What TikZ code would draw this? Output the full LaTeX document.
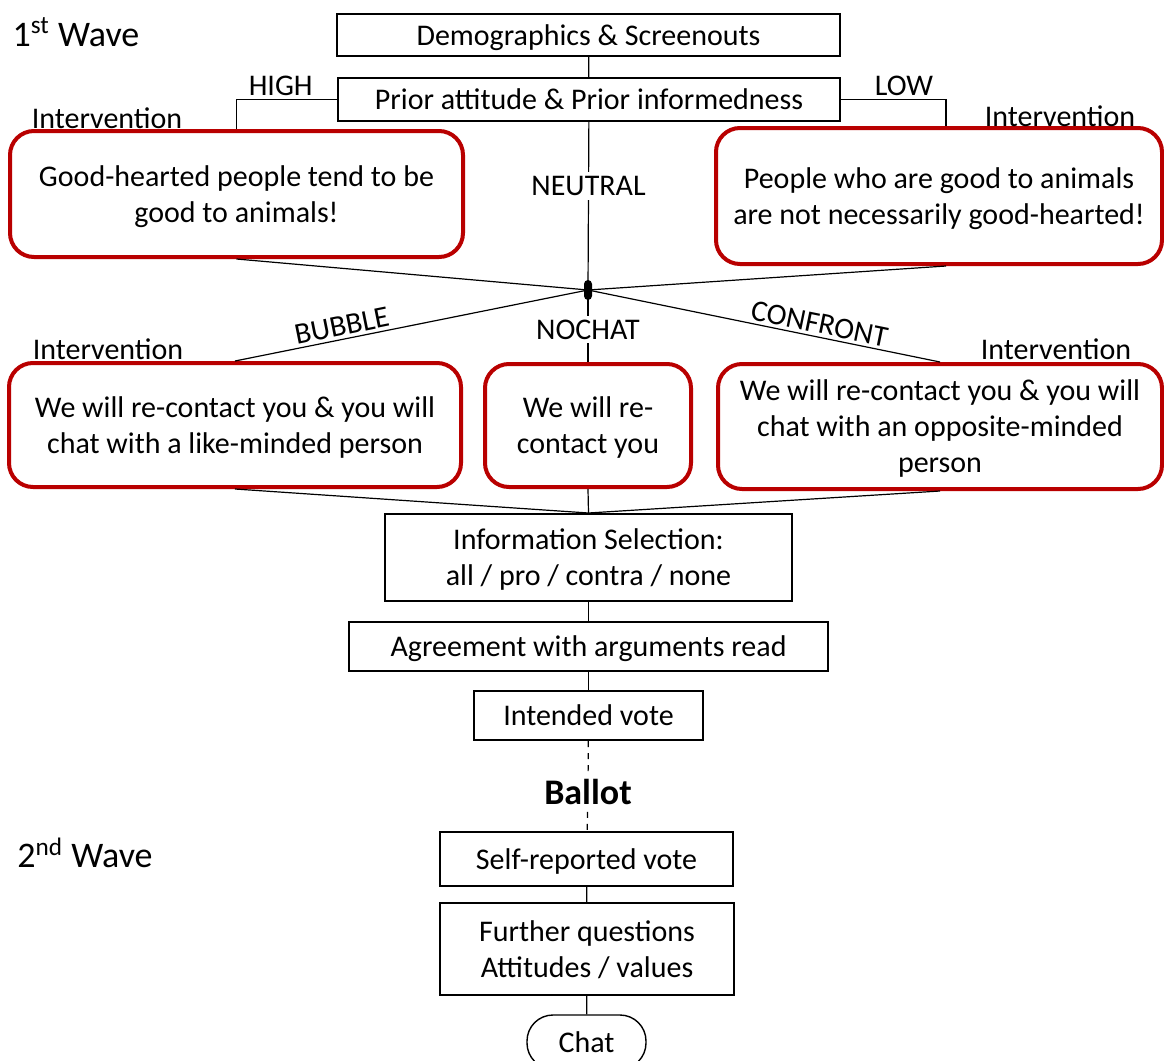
\documentclass[tikz,border=0pt]{standalone}
\usepackage{fontspec}
\setmainfont{Carlito}
\usetikzlibrary{positioning,calc}
\definecolor{boxred}{RGB}{185,0,0}
\tikzset{
  plainbox/.style={draw, line width=1pt, align=center, inner sep=0pt, text depth=0pt},
  redbox/.style={draw=boxred, line width=2pt, rounded corners=12pt, align=center, inner sep=0pt, text depth=0pt},
  lbl/.style={inner sep=1.5pt},
  link/.style={line width=0.6pt},
}

\begin{document}
\begin{tikzpicture}[x=0.5pt,y=-0.5pt,font=\fontsize{15}{18}\selectfont]
\useasboundingbox (0,0) rectangle (1164,1061);

% waves
\node[font=\fontsize{18}{22}\selectfont] (wave1) at (76,32) {1\textsuperscript{st} Wave};
\node[font=\fontsize{18}{22}\selectfont] (wave2) at (85,853) {2\textsuperscript{nd} Wave};

% first wave
\node[plainbox, minimum width=251.5pt, minimum height=21pt] (demo) at (588.5,35) {Demographics \& Screenouts};
\node[plainbox, minimum width=251pt, minimum height=21.5pt] (prior) at (589,99.5) {Prior attitude \& Prior informedness};
\node[redbox, minimum width=226.5pt, minimum height=63pt] (good) at (236.5,194) {Good-hearted people tend to be\\good to animals!};
\node[redbox, minimum width=223pt, minimum height=68pt] (animals) at (939,196) {People who are good to animals\\are not necessarily good-hearted!};
\node[fill=black, rounded corners=2pt, minimum width=4pt, minimum height=10pt, inner sep=0pt] (hub) at (588,290) {};
\node[redbox, minimum width=226pt, minimum height=62pt] (bubble) at (235,425) {We will re-contact you \& you will\\chat with a like-minded person};
\node[redbox, minimum width=103pt, minimum height=61.5pt] (nochat) at (588,425.5) {We will re-\\contact you};
\node[redbox, minimum width=222pt, minimum height=62.5pt] (confront) at (940,426.5) {We will re-contact you \& you will\\chat with an opposite-minded\\person};
\node[plainbox, minimum width=203.5pt, minimum height=43.5pt] (info) at (588.5,557.5) {Information Selection:\\all / pro / contra / none};
\node[plainbox, minimum width=239.5pt, minimum height=24.5pt] (agree) at (588.5,646.5) {Agreement with arguments read};
\node[plainbox, minimum width=114.5pt, minimum height=24.5pt] (intended) at (588.5,715.5) {Intended vote};
\node[font=\bfseries\fontsize{18}{22}\selectfont] (ballot) at (588,792) {Ballot};

% second wave
\node[plainbox, minimum width=146.5pt, minimum height=27pt] (self) at (586.5,859) {Self-reported vote};
\node[plainbox, minimum width=147pt, minimum height=46pt] (further) at (587,949) {Further questions\\Attitudes / values};
\node[draw, line width=0.7pt, rounded corners=13pt, minimum width=59.5pt, minimum height=27pt] (chat) at (586.5,1042) {Chat};

% intervention labels
\node (int1) at (107,118) {Intervention};
\node (int2) at (1060,116) {Intervention};
\node (int3) at (108,349) {Intervention};
\node (int4) at (1056,349) {Intervention};

% connectors
\draw[link] (demo) -- (prior);
\draw[link] (prior.west) -| node[lbl, pos=0.28, above] {HIGH} (good.north);
\draw[link] (prior.east) -| node[lbl, pos=0.3, above] {LOW} ([xshift=3.5pt]animals.north);
\draw[link] (prior) -- node[fill=white, inner sep=2pt, pos=0.38] {NEUTRAL} (hub.center);
\draw[link] (good.south) -- (hub.center);
\draw[link] ([xshift=3.5pt]animals.south) -- (hub.center);
\draw[link] (bubble.north) -- node[lbl, sloped, above, pos=0.31] {BUBBLE} (hub.center);
\draw[link] (hub.center) -- node[lbl, sloped, above, pos=0.65] {CONFRONT} (confront.north);
\draw[link] (hub.center) -- node[fill=white, inner sep=2pt, pos=0.55] {NOCHAT} (nochat.north);
\draw[link] (bubble.south) -- (info.north);
\draw[link] (nochat.south) -- (info.north);
\draw[link] (confront.south) -- (info.north);
\draw[link] (info) -- (agree);
\draw[link] (agree) -- (intended);
\draw[link, dashed] (intended) -- (ballot);
\draw[link, dashed] (ballot) -- (self);
\draw[link] (self) -- (further);
\draw[link] (further) -- (chat);
\end{tikzpicture}
\end{document}
